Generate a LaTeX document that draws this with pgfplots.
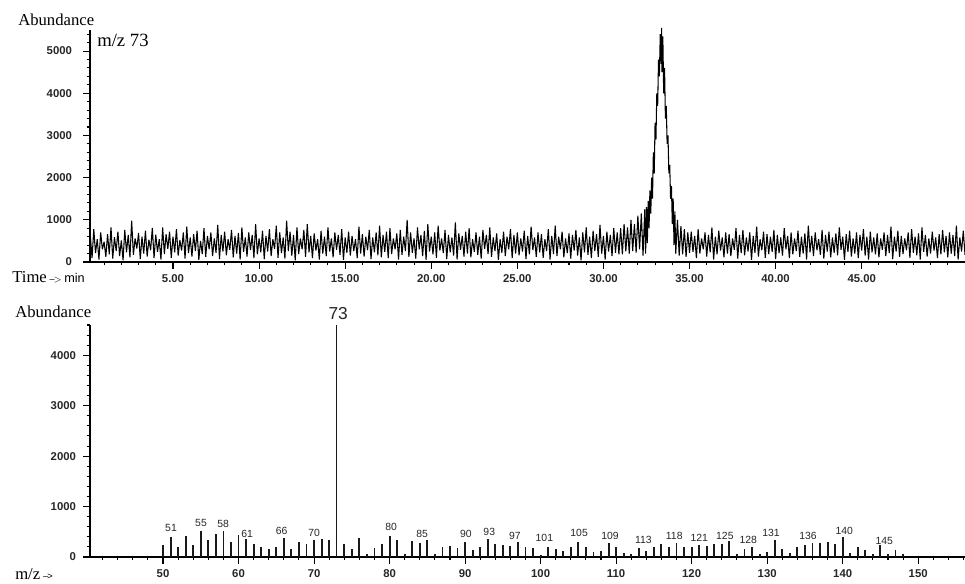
\documentclass[border=0pt]{standalone}
\usepackage{fontspec}
\setmainfont{Liberation Sans}
\newfontfamily\tms{Liberation Serif}
\usepackage{pgfplots}
\usepackage{pgfplotstable}
\pgfplotsset{compat=1.18}

% ---- Mass spectrum (m/z, abundance) ----
\pgfplotstableread{
mz y
50 240
51 400
52 200
53 420
54 230
55 520
56 330
57 460
58 520
59 300
60 440
61 360
62 260
63 200
64 160
65 200
66 380
67 160
68 300
69 260
70 330
71 360
72 330
74 250
75 160
76 370
77 60
78 180
79 260
80 410
81 330
82 60
83 320
84 280
85 330
86 60
87 200
88 220
89 170
90 300
91 140
92 200
93 360
94 260
95 240
96 220
97 290
98 200
99 180
100 40
101 200
102 160
103 120
104 200
105 300
106 200
107 100
108 120
109 280
110 200
111 80
112 60
113 170
114 120
115 200
116 250
117 200
118 280
119 200
120 200
121 240
122 220
123 250
124 260
125 320
126 60
127 160
128 200
129 60
130 100
131 330
132 160
133 80
134 200
135 240
136 270
137 270
138 300
139 260
140 400
141 80
142 200
143 140
144 60
145 230
146 60
147 140
148 60
}\spec

\pgfplotstableread{
mz y
73 4600
}\basepeak

\pgfplotstableread{
x y lab
51.06 574 51
55.03 673 55
57.95 653 58
61.13 455 61
65.7 515 66
70.0 475 70
80.2 594 80
84.3 455 85
90.1 455 90
93.2 495 93
96.6 416 97
100.5 376 101
105.1 475 105
109.2 416 109
113.6 337 113
117.7 416 118
121.0 376 121
124.4 416 125
127.5 337 128
130.5 475 131
135.4 416 136
140.2 515 140
145.5 317 145
}\labs

\pgfplotstableread{
x y lab
73.2 4830 73
}\labbig

\pgfplotsset{
  gcms/.style={
    scale only axis,
    anchor=south west,
    width=656.25pt, height=174pt,
    axis x line=bottom, axis y line=left,
    axis line style={-, line width=0.8pt, black},
    tick align=outside,
    major tick length=5pt, minor tick length=2.5pt,
    tick style={line width=0.8pt, black},
    ticklabel style={font=\fontsize{8.5}{9}\selectfont\bfseries, text=black!85},
    /pgf/number format/assume math mode=true,
    /pgf/number format/1000 sep={},
    clip=false,
  }
}

\begin{document}
\begin{tikzpicture}
\path[use as bounding box] (0,0) rectangle (723.75pt,437.25pt);

\begin{axis}[gcms,
  at={(67.5pt,240.75pt)},
  xmin=0.18, xmax=51, ymin=0, ymax=5500,
  xtick={5,10,...,45},
  minor xtick={1,2,...,50},
  ytick={0,1000,...,5000},
  minor ytick={200,400,...,5400},
  x tick label style={/pgf/number format/fixed,
    /pgf/number format/fixed zerofill,
    /pgf/number format/precision=2, yshift=-1pt},
  y tick label style={xshift=-5pt},
]
\addplot[black, line width=0.8pt, line join=bevel] coordinates {
(0.2,620)(0.3,90)(0.4,780)(0.5,210)(0.6,540)(0.7,60)(0.8,700)(0.9,300)(1.0,480)(1.1,120)
(1.2,660)(1.3,180)(1.4,820)(1.5,80)(1.6,590)(1.7,260)(1.8,720)(1.9,140)(2.0,510)(2.1,40)
(2.2,760)(2.3,230)(2.4,640)(2.5,110)(2.6,980)(2.7,170)(2.8,560)(2.9,320)(3.0,690)(3.1,70)
(3.2,600)(3.3,200)(3.4,740)(3.5,130)(3.6,530)(3.7,280)(3.8,810)(3.9,90)(4.0,650)(4.1,240)
(4.2,540)(4.3,60)(4.4,820)(4.5,190)(4.6,660)(4.7,310)(4.8,720)(4.9,100)(5.0,600)(5.1,230)
(5.2,780)(5.3,150)(5.4,520)(5.5,270)(5.6,700)(5.7,80)(5.8,840)(5.9,210)(6.0,580)(6.1,130)
(6.2,660)(6.3,260)(6.4,740)(6.5,50)(6.6,500)(6.7,190)(6.8,800)(6.9,120)(7.0,620)(7.1,300)
(7.2,700)(7.3,140)(7.4,560)(7.5,220)(7.6,880)(7.7,70)(7.8,640)(7.9,250)(8.0,720)(8.1,160)
(8.2,540)(8.3,290)(8.4,760)(8.5,110)(8.6,620)(8.7,200)(8.8,690)(8.9,60)(9.0,820)(9.1,240)
(9.2,580)(9.3,130)(9.4,700)(9.5,280)(9.6,640)(9.7,90)(9.8,900)(9.9,180)(10.0,560)(10.1,230)
(10.2,740)(10.3,70)(10.4,620)(10.5,250)(10.6,780)(10.7,140)(10.8,540)(10.9,310)(11.0,860)(11.1,100)
(11.2,700)(11.3,210)(11.4,580)(11.5,80)(11.6,980)(11.7,260)(11.8,720)(11.9,150)(12.0,640)(12.1,40)
(12.2,820)(12.3,190)(12.4,560)(12.5,300)(12.6,760)(12.7,120)(12.8,900)(12.9,230)(13.0,620)(13.1,90)
(13.2,680)(13.3,270)(13.4,540)(13.5,60)(13.6,740)(13.7,200)(13.8,600)(13.9,140)(14.0,820)(14.1,250)
(14.2,560)(14.3,110)(14.4,700)(14.5,290)(14.6,640)(14.7,170)(14.8,780)(14.9,50)(15.0,580)(15.1,220)
(15.2,720)(15.3,150)(15.4,620)(15.5,260)(15.6,540)(15.7,90)(15.8,840)(15.9,200)(16.0,660)(16.1,130)
(16.2,600)(16.3,280)(16.4,760)(16.5,70)(16.6,580)(16.7,230)(16.8,700)(16.9,160)(17.0,860)(17.1,110)
(17.2,640)(17.3,240)(17.4,720)(17.5,90)(17.6,800)(17.7,190)(17.8,560)(17.9,300)(18.0,680)(18.1,60)
(18.2,760)(18.3,170)(18.4,600)(18.5,260)(18.6,1000)(18.7,120)(18.8,700)(18.9,220)(19.0,560)(19.1,80)
(19.2,820)(19.3,300)(19.4,640)(19.5,140)(19.6,740)(19.7,50)(19.8,900)(19.9,250)(20.0,600)(20.1,180)
(20.2,700)(20.3,100)(20.4,860)(20.5,270)(20.6,560)(20.7,210)(20.8,760)(20.9,70)(21.0,640)(21.1,230)
(21.2,580)(21.3,150)(21.4,940)(21.5,60)(21.6,680)(21.7,290)(21.8,620)(21.9,130)(22.0,720)(22.1,200)
(22.2,800)(22.3,110)(22.4,540)(22.5,240)(22.6,700)(22.7,170)(22.8,600)(22.9,80)(23.0,760)(23.1,310)
(23.2,640)(23.3,190)(23.4,820)(23.5,120)(23.6,580)(23.7,260)(23.8,680)(23.9,50)(24.0,540)(24.1,220)
(24.2,720)(24.3,140)(24.4,600)(24.5,300)(24.6,780)(24.7,90)(24.8,640)(24.9,200)(25.0,700)(25.1,160)
(25.2,560)(25.3,250)(25.4,740)(25.5,70)(25.6,620)(25.7,180)(25.8,840)(25.9,280)(26.0,580)(26.1,120)
(26.2,700)(26.3,230)(26.4,660)(26.5,100)(26.6,540)(26.7,260)(26.8,780)(26.9,60)(27.0,620)(27.1,190)
(27.2,860)(27.3,140)(27.4,600)(27.5,300)(27.6,720)(27.7,110)(27.8,560)(27.9,210)(28.0,680)(28.1,80)
(28.2,640)(28.3,270)(28.4,760)(28.5,150)(28.6,580)(28.7,40)(28.8,700)(28.9,230)(29.0,820)(29.1,170)
(29.2,600)(29.3,90)(29.4,740)(29.5,260)(29.6,660)(29.7,120)(29.8,880)(29.9,200)(30.0,620)(30.1,60)
(30.2,720)(30.3,250)(30.4,640)(30.5,140)(30.6,800)(30.7,220)(30.8,700)(30.9,180)
(31.0,800)(31.1,180)(31.2,900)(31.3,250)(31.4,820)(31.5,200)(31.6,1000)(31.7,260)(31.8,900)(31.9,220)
(32.0,1100)(32.1,300)(32.2,1150)(32.3,150)(32.4,1250)(32.45,200)(32.5,1300)(32.55,450)(32.6,1450)(32.65,800)
(32.7,1700)(32.75,1150)(32.8,2000)(32.85,1500)(32.9,2600)(32.95,2100)(33.0,3300)(33.05,2900)(33.1,4000)(33.15,3700)
(33.2,4800)(33.25,4400)(33.3,5400)(33.35,4700)(33.38,5550)(33.4,4500)(33.45,5350)(33.5,4000)(33.55,4600)(33.6,3400)
(33.65,3700)(33.7,2800)(33.75,3000)(33.8,2100)(33.85,2300)(33.9,1500)(33.95,1800)(34.0,900)(34.05,1500)(34.1,400)
(34.15,1200)(34.2,200)(34.3,1000)(34.4,150)(34.5,850)(34.6,180)(34.7,780)(34.8,120)(34.9,700)(35.0,220)
(35.1,720)(35.2,240)(35.3,620)(35.4,90)(35.5,780)(35.6,200)(35.7,560)(35.8,300)(35.9,700)(36.0,130)
(36.1,640)(36.2,230)(36.3,820)(36.4,60)(36.5,600)(36.6,180)(36.7,740)(36.8,270)(36.9,580)(37.0,110)
(37.1,700)(37.2,200)(37.3,660)(37.4,140)(37.5,560)(37.6,290)(37.7,800)(37.8,80)(37.9,640)(38.0,210)
(38.1,760)(38.2,160)(38.3,580)(38.4,250)(38.5,700)(38.6,50)(38.7,620)(38.8,220)(38.9,840)(39.0,130)
(39.1,540)(39.2,280)(39.3,720)(39.4,100)(39.5,660)(39.6,190)(39.7,600)(39.8,240)(39.9,760)(40.0,70)
(40.1,640)(40.2,210)(40.3,580)(40.4,150)(40.5,800)(40.6,300)(40.7,620)(40.8,90)(40.9,700)(41.0,180)
(41.1,560)(41.2,260)(41.3,740)(41.4,120)(41.5,600)(41.6,200)(41.7,680)(41.8,60)(41.9,860)(42.0,230)
(42.1,620)(42.2,140)(42.3,700)(42.4,280)(42.5,540)(42.6,170)(42.7,760)(42.8,80)(42.9,640)(43.0,250)
(43.1,720)(43.2,110)(43.3,580)(43.4,220)(43.5,680)(43.6,160)(43.7,820)(43.8,290)(43.9,600)(44.0,50)
(44.1,660)(44.2,240)(44.3,740)(44.4,130)(44.5,560)(44.6,200)(44.7,700)(44.8,90)(44.9,640)(45.0,270)
(45.1,780)(45.2,150)(45.3,600)(45.4,60)(45.5,720)(45.6,230)(45.7,580)(45.8,180)(45.9,680)(46.0,110)
(46.1,560)(46.2,290)(46.3,700)(46.4,140)(46.5,640)(46.6,210)(46.7,840)(46.8,70)(46.9,600)(47.0,250)
(47.1,740)(47.2,120)(47.3,620)(47.4,190)(47.5,560)(47.6,280)(47.7,700)(47.8,100)(47.9,780)(48.0,220)
(48.1,600)(48.2,160)(48.3,680)(48.4,60)(48.5,820)(48.6,240)(48.7,640)(48.8,130)(48.9,560)(49.0,200)
(49.1,720)(49.2,270)(49.3,580)(49.4,90)(49.5,660)(49.6,180)(49.7,760)(49.8,230)(49.9,620)(50.0,110)
(50.1,700)(50.2,200)(50.3,640)(50.4,140)(50.5,860)(50.6,60)(50.7,580)(50.8,250)(50.9,740)(51.0,170)
};
\end{axis}

\begin{axis}[gcms,
  at={(67.5pt,19.5pt)},
  xmin=40.33, xmax=156.2, ymin=0, ymax=4600,
  xtick={50,60,...,150},
  minor xtick={42,44,...,156},
  ytick={0,1000,...,4000},
  minor ytick={200,400,...,4600},
  y tick label style={xshift=-2pt},
  x tick label style={yshift=-1pt},
]
\addplot[ycomb, black!90, line width=1.4pt] table[x=mz,y=y] {\spec};
\addplot[ycomb, black!90, line width=0.9pt] table[x=mz,y=y] {\basepeak};
\addplot[draw=none, nodes near coords, point meta=explicit symbolic,
  every node near coord/.append style={anchor=center, inner sep=0pt,
    font=\fontsize{7.8}{8}\selectfont, text=black!85}]
  table[x=x,y=y,meta=lab] {\labs};
\addplot[draw=none, nodes near coords, point meta=explicit symbolic,
  every node near coord/.append style={anchor=center, inner sep=0pt,
    font=\fontsize{13}{14}\selectfont, text=black!85}]
  table[x=x,y=y,meta=lab] {\labbig};
\end{axis}

% labels
\node[anchor=base west, inner sep=0pt] at (13.5pt,417.75pt) {\tms\fontsize{12.5}{13}\selectfont Abundance};
\node[anchor=base west, inner sep=0pt] at (72.75pt,402pt) {\tms\fontsize{14}{15}\selectfont m/z 73};
\node[anchor=base west, inner sep=0pt] at (9pt,225pt) {\tms\fontsize{12.5}{13}\selectfont Time\,{\sffamily\fontsize{7}{8}\selectfont --\kern-0.6pt>}\,{\rmfamily\fontsize{9.5}{10}\selectfont min}};
\node[anchor=base west, inner sep=0pt] at (11.25pt,199.3pt) {\tms\fontsize{12.5}{13}\selectfont Abundance};
\node[anchor=base west, inner sep=0pt] at (11.25pt,2.5pt) {\tms\fontsize{12.5}{13}\selectfont m/z\,{\rmfamily\fontsize{7}{8}\selectfont --\kern-0.6pt>}};
\end{tikzpicture}
\end{document}
